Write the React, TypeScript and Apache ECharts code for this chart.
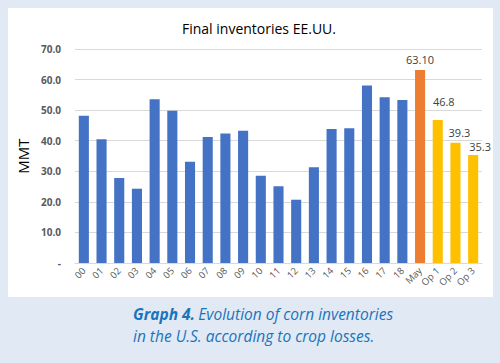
import React, { useEffect, useRef } from "react";
import * as echarts from "echarts";

const categories = ["00","01","02","03","04","05","06","07","08","09","10","11","12","13","14","15","16","17","18","May","Op 1","Op 2","Op 3"];
const values = [48.2,40.5,27.8,24.3,53.6,49.8,33.1,41.2,42.4,43.3,28.5,25.1,20.7,31.3,43.8,44.1,58.1,54.2,53.3,63.1,46.8,39.3,35.3];
const barColors = ["#4472c4","#4472c4","#4472c4","#4472c4","#4472c4","#4472c4","#4472c4","#4472c4","#4472c4","#4472c4","#4472c4","#4472c4","#4472c4","#4472c4","#4472c4","#4472c4","#4472c4","#4472c4","#4472c4","#ed7d31","#ffc000","#ffc000","#ffc000"];
const valueLabels = ["","","","","","","","","","","","","","","","","","","","63.10","46.8","39.3","35.3"];
const labelOffsets: [number, number][] = categories.map((_, i) =>
  i === 20 ? [6, -8] : i === 21 ? [4, 0] : i === 22 ? [7, 2] : [0, 0]
);

export default function App() {
  const ref = useRef<HTMLDivElement>(null);
  useEffect(() => {
    const chart = echarts.init(ref.current!, null, { renderer: "svg" });
    chart.setOption({
      animation: false,
      backgroundColor: "#e1e9f5",
      title: {
        text: "Final inventories EE.UU.",
        left: 254,
        textAlign: "center",
        top: 16,
        textStyle: { fontSize: 14, fontWeight: "normal", color: "#000", fontFamily: "Open Sans" },
      },
      graphic: [
        { type: "rect", z: -1, shape: { x: 8, y: 8, width: 485, height: 289 }, style: { fill: "#ffffff" } },
        {
          type: "text",
          x: 133,
          y: 303,
          style: {
            text: "{b|Graph 4.} {i|Evolution of corn inventories}\n{i|in the U.S. according to crop losses.}",
            rich: {
              b: { fontSize: 15.5, fontWeight: "bold", fontStyle: "italic", fill: "#1a74bb", fontFamily: "Open Sans", lineHeight: 22 },
              i: { fontSize: 15.5, fontStyle: "italic", fill: "#1a74bb", fontFamily: "Open Sans", lineHeight: 22 },
            },
          },
        },
      ],
      grid: { left: 75, right: 18, top: 49, bottom: 100 },
      xAxis: {
        type: "category",
        data: categories,
        axisTick: { show: false },
        axisLine: { lineStyle: { color: "#d9d9d9" } },
        axisLabel: { rotate: 45, color: "#595959", fontSize: 9.5, margin: 6, fontFamily: "Open Sans", interval: 0 },
      },
      yAxis: {
        type: "value",
        min: 0,
        max: 70,
        interval: 10,
        name: "MMT",
        nameLocation: "middle",
        nameRotate: 90,
        nameGap: 40,
        nameTextStyle: { fontSize: 15, color: "#000", fontFamily: "Open Sans" },
        axisLabel: {
          formatter: (v: number) => (v === 0 ? "-" : v.toFixed(1)),
          color: "#595959",
          fontSize: 10,
          fontWeight: "bold",
          margin: 14,
          fontFamily: "Open Sans",
        },
        splitLine: { lineStyle: { color: "#d9d9d9" } },
      },
      series: [
        {
          type: "bar",
          barWidth: "57%",
          data: values.map((v, i) => ({
            value: v,
            itemStyle: { color: barColors[i] },
            label: {
              show: valueLabels[i] !== "",
              position: "top",
              formatter: valueLabels[i],
              offset: labelOffsets[i],
              color: "#404040",
              fontSize: 11,
              fontFamily: "Open Sans",
            },
          })),
        },
      ],
    });
    return () => chart.dispose();
  }, []);
  return <div ref={ref} style={{ position: "absolute", left: 0, top: 0, width: 500, height: 363 }} />;
}
